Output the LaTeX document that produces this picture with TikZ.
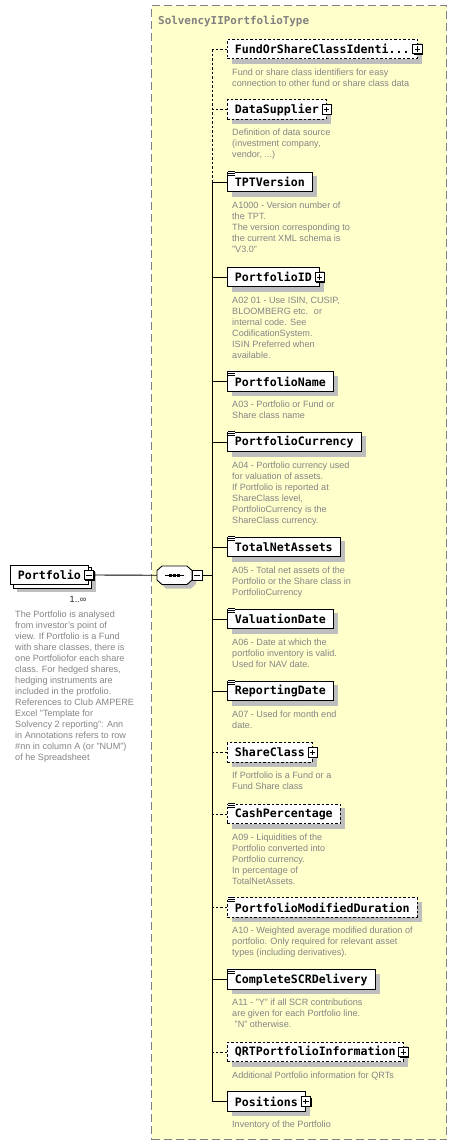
\documentclass[tikz,border=0pt]{standalone}
\usepackage{fontspec}
\setmainfont{Liberation Sans}
\newfontfamily\namefont{DejaVu Sans Mono}
\usepackage{tikz}
\usetikzlibrary{positioning}
\definecolor{typeY}{RGB}{255,255,204}
\definecolor{typeG}{RGB}{128,128,128}
\definecolor{descG}{RGB}{132,132,132}
\definecolor{shadG}{RGB}{190,190,190}
\pgfdeclarelayer{bg}
\pgfdeclarelayer{shadowlayer}
\pgfsetlayers{bg,shadowlayer,main}

% gray drop shadow of a box
\newcommand{\castshadow}[2][4.5pt]{%
  \begin{pgfonlayer}{shadowlayer}
    \fill[shadG] ([shift={(#1,-#1)}]#2.north west) rectangle ([shift={(#1,-#1)}]#2.south east);
  \end{pgfonlayer}}
% three-bar icon on simple-type elements
\newcommand{\simpleicon}[1]{%
  \fill[white] ([xshift=0.5pt,yshift=1pt]#1.north west) rectangle ++(7.5pt,-6pt);
  \foreach \k in {0,2,4}{\draw[line width=0.7pt] ([xshift=1pt,yshift=-\k pt]#1.north west) -- ++(6.5pt,0pt);}}
% expand / collapse buttons
\newcommand{\plusicon}[1]{%
  \fill ([shift={(-3.75pt,-5.75pt)}]#1.east) rectangle ([shift={(5.75pt,3.75pt)}]#1.east);
  \node[plusbox] (#1p) at (#1.east) {};}
\newcommand{\minusicon}[2]{%
  \fill ([shift={(-3.75pt,-5.75pt)}]#2) rectangle ([shift={(5.75pt,3.75pt)}]#2);
  \node[minusbox] (#1m) at (#2) {};}
% sequence compositor outline
\newcommand{\seqoutline}{(157,570.5) -- (162,566) -- (187,566) -- (192,570.5) -- (192,580) -- (187,584.5) -- (162,584.5) -- (157,580) -- cycle}

\begin{document}
\begin{tikzpicture}[
  x=1pt, y=-1pt,
  elem/.style={draw, fill=white, line width=0.9pt, anchor=west, minimum height=19.5pt, inner xsep=7.5pt, inner ysep=0pt, font=\namefont\bfseries\fontsize{11.6}{13}\selectfont},
  opt/.style={elem, dash pattern=on 2.5pt off 2pt},
  desc/.style={inner sep=0pt, align=left, text=descG, font=\fontsize{9.1}{11}\selectfont},
  plusbox/.style={draw, fill=white, line width=0.7pt, minimum size=9.5pt, inner sep=0pt,
    path picture={\draw[line width=0.8pt] ([xshift=2pt]path picture bounding box.west) -- ([xshift=-2pt]path picture bounding box.east)
      ([yshift=-2pt]path picture bounding box.north) -- ([yshift=2pt]path picture bounding box.south);}},
  minusbox/.style={draw, fill=white, line width=0.7pt, minimum size=9.5pt, inner sep=0pt,
    path picture={\draw[line width=0.8pt] ([xshift=2pt]path picture bounding box.west) -- ([xshift=-2pt]path picture bounding box.east);}},
  link/.style={line width=0.9pt},
  optlink/.style={line width=0.9pt, dash pattern=on 2.5pt off 2pt},
  typebox/.style={draw=typeG, fill=typeY, line width=1pt, dash pattern=on 8pt off 4pt, anchor=north west, inner sep=0pt},
  title/.style={text=typeG, font=\namefont\bfseries\fontsize{10.9}{12}\selectfont, inner sep=0pt}
]
\useasboundingbox (0,0) rectangle (456,1146);

\begin{pgfonlayer}{bg}
\node[typebox, minimum width=295pt, minimum height=1134pt] (ptype) at (151,5) {};
\end{pgfonlayer}
\node[title, anchor=base west] (ttl) at (158,24) {SolvencyIIPortfolioType};
\coordinate (spine) at (212,0);

% root element
\node[elem] (port) at (10,575) {Portfolio\hspace{5pt}};
\begin{pgfonlayer}{shadowlayer}
\fill[shadG] ([shift={(7pt,-7pt)}]port.north west) rectangle ([shift={(7pt,-7pt)}]port.south east);
\draw[fill=white, line width=0.9pt] ([shift={(3pt,-3pt)}]port.north west) rectangle ([shift={(3pt,-3pt)}]port.south east);
\end{pgfonlayer}
\minusicon{port}{port.east}
\node[inner sep=0pt, text=black!85, font=\fontsize{9.1}{11}\selectfont] (mult) at (78,599) {1..∞};
\node[desc, anchor=north west] (portd) at (15,611) {The Portfolio is analysed\\from investor's point of\\view. If Portfolio is a Fund\\with share classes, there is\\one Portfoliofor each share\\class. For hedged shares,\\hedging instruments are\\included in the protfolio.\\References to Club AMPERE\\Excel "Template for\\Solvency 2 reporting": Ann\\in Annotations refers to row\\\#nn in column A (or "NUM")\\of he Spreadsheet};

% sequence
\node[minimum width=35pt, minimum height=18.5pt, inner sep=0pt] (seq) at (174.5,575.25) {};
\begin{pgfonlayer}{shadowlayer}
\fill[shadG, shift={(4,4)}] \seqoutline;
\end{pgfonlayer}
\draw[fill=white, line width=0.9pt] \seqoutline;
\draw[line width=1pt] ([xshift=8pt]seq.west) -- ([xshift=-8pt]seq.east);
\foreach \dx in {-4,0,4}{\fill ([xshift=\dx pt]seq.center) +(-1.4pt,-1.4pt) rectangle +(1.4pt,1.4pt);}
\coordinate (seqb) at ([xshift=5pt]seq.east);
\minusicon{seq}{seqb}

% child elements
\node[opt] (fund) at (227,49) {FundOrShareClassIdenti...\hspace{8pt}};
\plusicon{fund}
\node[desc, below right=9.25pt and 5pt of fund.south west] (fundd) {Fund or share class identifiers for easy\\connection to other fund or share class data};

\node[opt] (supp) at (227,109.5) {DataSupplier\hspace{5pt}};
\plusicon{supp}
\node[desc, below right=9.25pt and 5pt of supp.south west] (suppd) {Definition of data source\\(investment company,\\vendor, ...)};

\node[elem] (tpt) at (227,182) {TPTVersion};
\simpleicon{tpt}
\node[desc, below right=9.25pt and 5pt of tpt.south west] (tptd) {A1000 - Version number of\\the TPT.\\The version corresponding to\\the current XML schema is\\"V3.0"};

\node[elem] (pid) at (227,277) {PortfolioID\hspace{5pt}};
\plusicon{pid}
\node[desc, below right=9.25pt and 5pt of pid.south west] (pidd) {A02 01 - Use ISIN, CUSIP,\\BLOOMBERG etc.~ or\\internal code. See\\CodificationSystem.\\ISIN Preferred when\\available.};

\node[elem] (pname) at (227,381.5) {PortfolioName};
\simpleicon{pname}
\node[desc, below right=9.25pt and 5pt of pname.south west] (pnamed) {A03 - Portfolio or Fund or\\Share class name};

\node[elem] (pcur) at (227,442) {PortfolioCurrency};
\simpleicon{pcur}
\node[desc, below right=9.25pt and 5pt of pcur.south west] (pcurd) {A04 - Portfolio currency used\\for valuation of assets.\\If Portfolio is reported at\\ShareClass level,\\PortfolioCurrency is the\\ShareClass currency.};

\node[elem] (tna) at (227,547) {TotalNetAssets};
\simpleicon{tna}
\node[desc, below right=9.25pt and 5pt of tna.south west] (tnad) {A05 - Total net assets of the\\Portfolio or the Share class in\\PortfolioCurrency};

\node[elem] (vdate) at (227,619) {ValuationDate};
\simpleicon{vdate}
\node[desc, below right=9.25pt and 5pt of vdate.south west] (vdated) {A06 - Date at which the\\portfolio inventory is valid.\\Used for NAV date.};

\node[elem] (rdate) at (227,691) {ReportingDate};
\simpleicon{rdate}
\node[desc, below right=9.25pt and 5pt of rdate.south west] (rdated) {A07 - Used for month end\\date.};

\node[opt] (share) at (227,752.5) {ShareClass\hspace{5pt}};
\plusicon{share}
\node[desc, below right=9.25pt and 5pt of share.south west] (shared) {If Portfolio is a Fund or a\\Fund Share class};

\node[opt] (cash) at (227,814) {CashPercentage};
\simpleicon{cash}
\node[desc, below right=9.25pt and 5pt of cash.south west] (cashd) {A09 - Liquidities of the\\Portfolio converted into\\Portfolio currency.\\In percentage of\\TotalNetAssets.};

\node[opt] (pmd) at (227,907.5) {PortfolioModifiedDuration};
\simpleicon{pmd}
\node[desc, below right=9.25pt and 5pt of pmd.south west] (pmdd) {A10 - Weighted average modified duration of\\portfolio. Only required for relevant asset\\types (including derivatives).};

\node[elem] (scr) at (227,979.5) {CompleteSCRDelivery};
\simpleicon{scr}
\node[desc, below right=9.25pt and 5pt of scr.south west] (scrd) {A11 - "Y" if all SCR contributions\\are given for each Portfolio line.\\\ "N" otherwise.};

\node[opt] (qrt) at (227,1052) {QRTPortfolioInformation\hspace{5pt}};
\plusicon{qrt}
\node[desc, below right=9.25pt and 5pt of qrt.south west] (qrtd) {Additional Portfolio information for QRTs};

\node[elem] (pos) at (227,1101.5) {Positions\hspace{5pt}};
\plusicon{pos}
\node[desc, below right=9.25pt and 5pt of pos.south west] (posd) {Inventory of the Portfolio};

\foreach \n in {fund,supp,tpt,pid,pname,pcur,tna,vdate,rdate,share,cash,pmd,scr,qrt,pos}{\castshadow{\n}}

% connectors
\draw[link] (portm.east) -- (seq.west);
\draw[link] (seqm.east) -- (seqm.east -| spine);
\draw[optlink] (fund.west -| spine) -- (tpt.west -| spine);
\draw[link] (tpt.west -| spine) -- (pos.west -| spine);
\foreach \n in {fund,supp,share,cash,pmd,qrt}{\draw[optlink] (\n.west) -- (\n.west -| spine);}
\foreach \n in {tpt,pid,pname,pcur,tna,vdate,rdate,scr,pos}{\draw[link] (\n.west) -- (\n.west -| spine);}
\end{tikzpicture}
\end{document}
